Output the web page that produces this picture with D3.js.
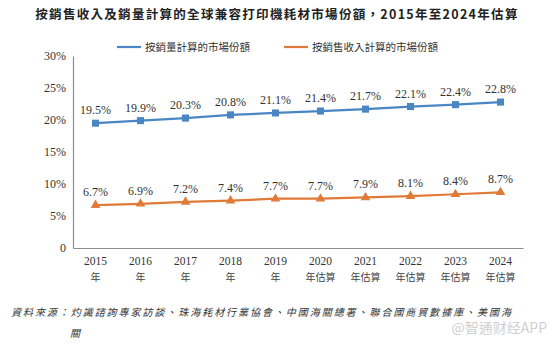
<!DOCTYPE html>
<html>
<head>
<meta charset="utf-8">
<script src="https://cdn.jsdelivr.net/npm/d3@7"></script>
<style>
  body { margin: 0; background: #fff; }
  svg { display: block; }
</style>
</head>
<body>
<div id="chart"></div>
<script>
// data
const years = ["2015", "2016", "2017", "2018", "2019", "2020", "2021", "2022", "2023", "2024"];
const yearSuffix = ["年", "年", "年", "年", "年", "年估算", "年估算", "年估算", "年估算", "年估算"];
const volumeShare = [19.5, 19.9, 20.3, 20.8, 21.1, 21.4, 21.7, 22.1, 22.4, 22.8];
const revenueShare = [6.7, 6.9, 7.2, 7.4, 7.7, 7.7, 7.9, 8.1, 8.4, 8.7];
const yTicks = [0, 5, 10, 15, 20, 25, 30];
const seriesNames = ["按銷量計算的市場份額", "按銷售收入計算的市場份額"];

const width = 554, height = 348;
const blue = "#4a86c4", orange = "#e07a38";
const serif = "'Liberation Serif', 'DejaVu Serif', serif";
const cjk = "'Noto Sans CJK TC', 'Noto Sans CJK SC', sans-serif";

const svg = d3.select("#chart").append("svg")
    .attr("width", width)
    .attr("height", height);

// Title
svg.append("text")
    .attr("x", 277).attr("y", 19)
    .attr("text-anchor", "middle")
    .attr("font-family", cjk)
    .attr("font-weight", "bold")
    .attr("font-size", 12.5)
    .attr("letter-spacing", 1.3)
    .attr("fill", "#222")
    .text("按銷售收入及銷量計算的全球兼容打印機耗材市場份額，2015年至2024年估算");

// Scales
const x = d3.scaleBand().domain(years).range([73, 523]);
const y = d3.scaleLinear().domain([0, 30]).range([248, 56]);
const cx = d => x(d) + x.bandwidth() / 2;

// Axes
const yAxis = svg.append("g")
    .attr("transform", "translate(73,0)")
    .call(d3.axisLeft(y).tickValues(yTicks).tickSize(0).tickPadding(7)
      .tickFormat(d => d === 0 ? "0" : d + "%"));
yAxis.select(".domain").attr("stroke", "#8c8c8c").attr("stroke-width", 1.2);
yAxis.selectAll("text")
    .attr("font-family", serif).attr("font-size", 12).attr("fill", "#333");

const xAxis = svg.append("g")
    .attr("transform", "translate(0,248)")
    .call(d3.axisBottom(x).tickSize(0).tickPadding(9));
xAxis.select(".domain").attr("stroke", "#8c8c8c").attr("stroke-width", 1.2);
xAxis.selectAll("text")
    .attr("font-family", serif).attr("font-size", 11.5).attr("fill", "#333");
xAxis.selectAll(".tick").append("text")
    .attr("y", 33)
    .attr("text-anchor", "middle")
    .attr("font-family", cjk)
    .attr("font-size", 10)
    .attr("fill", "#444")
    .text((d, i) => yearSuffix[i]);

// Lines
const line = d3.line().x((d, i) => cx(years[i])).y(d => y(d));

svg.append("path").datum(volumeShare)
    .attr("d", line).attr("fill", "none")
    .attr("stroke", blue).attr("stroke-width", 2.2);
svg.append("path").datum(revenueShare)
    .attr("d", line).attr("fill", "none")
    .attr("stroke", orange).attr("stroke-width", 2.2);

// Markers
const square = d3.symbol().type(d3.symbolSquare).size(50);
const tri = d3.symbol().type(d3.symbolTriangle).size(40);

svg.append("g").selectAll("path")
  .data(volumeShare).join("path")
    .attr("transform", (d, i) => `translate(${cx(years[i])},${y(d)})`)
    .attr("d", square).attr("fill", blue);
svg.append("g").selectAll("path")
  .data(revenueShare).join("path")
    .attr("transform", (d, i) => `translate(${cx(years[i])},${y(d)})`)
    .attr("d", tri).attr("fill", orange);

// Data labels
function labels(data) {
  svg.append("g").selectAll("text")
    .data(data).join("text")
      .attr("x", (d, i) => cx(years[i]))
      .attr("y", d => y(d) - 9)
      .attr("text-anchor", "middle")
      .attr("font-family", serif)
      .attr("font-size", 12)
      .attr("fill", "#333")
      .text(d => d.toFixed(1) + "%");
}
labels(volumeShare);
labels(revenueShare);

// Legend
const legend = [
  {name: seriesNames[0], color: blue, sym: square, x: 117},
  {name: seriesNames[1], color: orange, sym: tri, x: 284}
];
const lg = svg.append("g").selectAll("g").data(legend).join("g")
    .attr("transform", d => `translate(${d.x},47)`);
lg.append("line").attr("x1", 0).attr("x2", 24)
    .attr("stroke", d => d.color).attr("stroke-width", 2.2);
lg.append("path").attr("transform", "translate(12,0)")
    .attr("d", d => d.sym).attr("fill", d => d.color);
lg.append("text").attr("x", 28).attr("y", 4)
    .attr("font-family", cjk).attr("font-size", 10.5).attr("fill", "#333")
    .text(d => d.name);

// Source note
svg.append("text")
    .attr("x", 11).attr("y", 316)
    .attr("font-family", cjk).attr("font-size", 10)
    .attr("font-style", "italic").attr("fill", "#333")
    .attr("letter-spacing", 1.95)
    .text("資料來源：灼識諮詢專家訪談、珠海耗材行業協會、中國海關總署、聯合國商貿數據庫、美國海");
svg.append("text")
    .attr("x", 70).attr("y", 337)
    .attr("font-family", cjk).attr("font-size", 10)
    .attr("font-style", "italic").attr("fill", "#333")
    .text("關");

// Watermark
svg.append("text")
    .attr("x", 547).attr("y", 333)
    .attr("text-anchor", "end")
    .attr("font-family", cjk).attr("font-size", 14)
    .attr("fill", "#d0d0d0")
    .text("@智通财经APP");
</script>
</body>
</html>
